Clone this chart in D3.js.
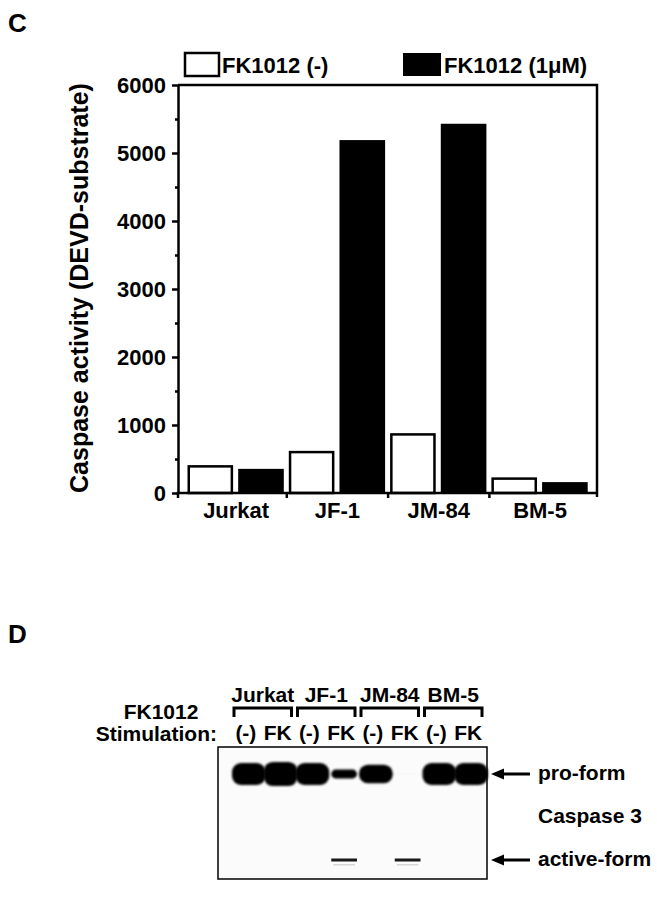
<!DOCTYPE html>
<meta charset="utf-8">
<style>
body {
  margin: 0;
  background: #fff;
  font-family: "Liberation Sans", Arial, Helvetica, sans-serif;
  font-weight: bold;
}
text {
  font-weight: bold;
  fill: #000;
}
.narrow {
  font-family: "Liberation Sans Narrow", "Liberation Sans", Arial, sans-serif;
}
.frame {
  fill: none;
  stroke: #000;
  stroke-width: 2.5;
}
.axis path, .axis line {
  stroke: #000;
  stroke-width: 2.5;
}
.bar-neg {
  fill: #fff;
  stroke: #000;
  stroke-width: 2.5;
}
.bar-fk {
  fill: #000;
}
</style>
<body>
<script src="https://cdn.jsdelivr.net/npm/d3@7"></script>
<script>

var cellLines = ["Jurkat", "JF-1", "JM-84", "BM-5"];
var caspaseNeg = [410, 620, 880, 230];
var caspaseFK = [355, 5190, 5430, 160];
var yTicks = [0, 1000, 2000, 3000, 4000, 5000, 6000];
var yMinor = [500, 1500, 2500, 3500, 4500, 5500];
var legendLabels = ["FK1012 (-)", "FK1012 (1\u03bcM)"];

var laneTreat = ["(-)", "FK", "(-)", "FK", "(-)", "FK", "(-)", "FK"];
var proForm = [1.0, 1.1, 1.0, 0.4, 0.85, 0.02, 1.0, 1.0];
var activeForm = [0, 0, 0, 0.9, 0, 0.9, 0, 0];
var blotLabels = ["pro-form", "Caspase 3", "active-form"];

var width = 657,
    height = 899;

var svg = d3.select("body").append("svg")
    .attr("width", width)
    .attr("height", height);

// ---- panel C : bar chart ----
var plot = {left: 178, right: 597, top: 85, bottom: 493};

var x = d3.scaleBand()
    .domain(cellLines)
    .range([185.5, 590.7]);

var x1 = d3.scaleBand()
    .domain(["neg", "fk"])
    .range([2, x.bandwidth() - 3])
    .paddingInner(0.1);

var y = d3.scaleLinear()
    .domain([0, 6000])
    .range([plot.bottom, plot.top]);

svg.append("text")
    .attr("x", 8)
    .attr("y", 32)
    .style("font-size", "26px")
    .text("C");

var rows = cellLines.map(function(c, i) {
  return {cat: c, neg: caspaseNeg[i], fk: caspaseFK[i]};
});

var groups = svg.selectAll(".grp")
    .data(rows)
  .enter().append("g")
    .attr("class", "grp")
    .attr("transform", function(d) { return "translate(" + x(d.cat) + ",0)"; });

groups.append("rect")
    .attr("class", "bar-fk")
    .attr("x", x1("fk"))
    .attr("width", x1.bandwidth())
    .attr("y", function(d) { return y(d.fk); })
    .attr("height", function(d) { return y(0) - y(d.fk); });

groups.append("rect")
    .attr("class", "bar-neg")
    .attr("x", x1("neg") + 1.25)
    .attr("width", x1.bandwidth() - 2.5)
    .attr("y", function(d) { return y(d.neg) + 1.25; })
    .attr("height", function(d) { return y(0) - y(d.neg) - 1.25; });

// frame: top + right border
svg.append("path")
    .attr("class", "frame")
    .attr("d", "M" + plot.left + "," + plot.top + "H" + plot.right + "V" + (plot.bottom + 4));

var yAxis = svg.append("g")
    .attr("class", "axis")
    .attr("transform", "translate(" + plot.left + ",0)")
    .call(d3.axisLeft(y).tickValues(yTicks).tickSize(6).tickSizeOuter(0).tickPadding(6).tickFormat(d3.format("d")));

yAxis.selectAll("text")
    .style("font-size", "22px")
    .style("font-family", "'Liberation Sans', Arial, sans-serif")
    .attr("dy", "0.36em");

svg.append("g")
    .attr("class", "axis")
    .attr("transform", "translate(" + plot.left + ",0)")
    .call(d3.axisLeft(y).tickValues(yMinor).tickSize(3).tickFormat(""))
  .select(".domain").remove();

var xAxis = svg.append("g")
    .attr("class", "axis")
    .attr("transform", "translate(0," + plot.bottom + ")");

xAxis.append("line")
    .attr("x1", plot.left - 1.25)
    .attr("x2", plot.right)
    .attr("stroke", "#000");

xAxis.selectAll(".xtick")
    .data([plot.left].concat(cellLines.slice(1).map(function(c) { return x(c); })))
  .enter().append("line")
    .attr("class", "xtick")
    .attr("x1", function(d) { return d; })
    .attr("x2", function(d) { return d; })
    .attr("y1", 0)
    .attr("y2", 5);

xAxis.selectAll(".xlab")
    .data(cellLines)
  .enter().append("text")
    .attr("class", "xlab")
    .attr("x", function(d) { return x(d) + x.bandwidth() / 2; })
    .attr("y", 25)
    .attr("text-anchor", "middle")
    .style("font-size", "22px")
    .text(function(d) { return d; });

svg.append("text")
    .attr("transform", "translate(88," + ((plot.top + plot.bottom) / 2 - 1) + ") rotate(-90)")
    .attr("text-anchor", "middle")
    .style("font-size", "25px")
    .text("Caspase activity (DEVD-substrate)");

// legend
var legend = svg.selectAll(".legend")
    .data(legendLabels)
  .enter().append("g")
    .attr("class", "legend")
    .attr("transform", function(d, i) { return "translate(" + [185, 403][i] + ",53)"; });

legend.append("rect")
    .attr("width", function(d, i) { return i ? 38 : 34; })
    .attr("height", 23)
    .attr("fill", function(d, i) { return i ? "#000" : "#fff"; })
    .attr("stroke", "#000")
    .attr("stroke-width", function(d, i) { return i ? 0 : 2.5; });

legend.append("text")
    .attr("x", function(d, i) { return i ? 41 : 37; })
    .attr("y", 20)
    .style("font-size", "22px")
    .text(function(d) { return d; });

// ---- panel D : western blot ----
svg.append("text")
    .attr("x", 8)
    .attr("y", 643)
    .style("font-size", "26px")
    .text("D");

var lane = d3.scaleBand()
    .domain(d3.range(laneTreat.length))
    .range([233, 487]);

var blot = {left: 218, right: 487, top: 747, bottom: 879};
var proY = 774,
    actY = 860;

var defs = svg.append("defs");
defs.append("filter")
    .attr("id", "soft")
    .attr("x", "-20%").attr("y", "-50%").attr("width", "140%").attr("height", "200%")
  .append("feGaussianBlur")
    .attr("stdDeviation", 1.2);
defs.append("filter")
    .attr("id", "soft2")
    .attr("x", "-20%").attr("y", "-100%").attr("width", "140%").attr("height", "300%")
  .append("feGaussianBlur")
    .attr("stdDeviation", 0.6);

svg.append("rect")
    .attr("x", blot.left)
    .attr("y", blot.top)
    .attr("width", blot.right - blot.left)
    .attr("height", blot.bottom - blot.top)
    .attr("fill", "#fbfbfb");

svg.selectAll(".pro")
    .data(proForm)
  .enter().append("rect")
    .attr("class", "pro")
    .attr("x", function(d, i) { return lane(i) + (d > 0.5 ? -1 : 3); })
    .attr("width", function(d) { return lane.bandwidth() + (d > 0.5 ? 2 : -6); })
    .attr("y", function(d) { return proY - 11 * d; })
    .attr("height", function(d) { return 22 * d; })
    .attr("rx", function(d) { return Math.min(11 * d, 9); })
    .attr("fill", "#050505")
    .attr("fill-opacity", function(d) { return Math.min(1, d * 3); })
    .attr("filter", "url(#soft)");

svg.selectAll(".act")
    .data(activeForm)
  .enter().append("rect")
    .attr("class", "act")
    .attr("x", function(d, i) { return lane(i) + 3; })
    .attr("y", actY - 1.5)
    .attr("width", lane.bandwidth() - 6)
    .attr("height", 3)
    .attr("fill", "#000")
    .attr("fill-opacity", function(d) { return d; })
    .attr("filter", "url(#soft2)");

svg.selectAll(".act2")
    .data(activeForm)
  .enter().append("rect")
    .attr("class", "act2")
    .attr("x", function(d, i) { return lane(i) + 5; })
    .attr("y", actY + 4)
    .attr("width", lane.bandwidth() - 10)
    .attr("height", 1.5)
    .attr("fill", "#777")
    .attr("fill-opacity", function(d) { return d * 0.3; });

svg.append("rect")
    .attr("x", blot.left)
    .attr("y", blot.top)
    .attr("width", blot.right - blot.left)
    .attr("height", blot.bottom - blot.top)
    .attr("fill", "none")
    .attr("stroke", "#000")
    .attr("stroke-width", 1.5);

// brackets and cell line names
var pairs = cellLines.map(function(c, i) {
  return {name: c, x0: lane(2 * i) + 1, x1: lane(2 * i + 1) + lane.bandwidth() - 5};
});

svg.selectAll(".bracket")
    .data(pairs)
  .enter().append("path")
    .attr("class", "bracket")
    .attr("d", function(d) { return "M" + d.x0 + ",717V708H" + d.x1 + "V717"; })
    .attr("fill", "none")
    .attr("stroke", "#000")
    .attr("stroke-width", 3);

svg.selectAll(".lanename")
    .data(pairs)
  .enter().append("text")
    .attr("class", "lanename narrow")
    .attr("x", function(d) { return (d.x0 + d.x1) / 2; })
    .attr("y", 702)
    .attr("text-anchor", "middle")
    .style("font-size", "21px")
    .text(function(d) { return d.name; });

svg.selectAll(".treat")
    .data(laneTreat)
  .enter().append("text")
    .attr("class", "treat narrow")
    .attr("x", function(d, i) { return lane(i) + lane.bandwidth() / 2 - 3; })
    .attr("y", 740)
    .attr("text-anchor", "middle")
    .style("font-size", "21px")
    .text(function(d) { return d; });

svg.append("text")
    .attr("class", "narrow")
    .attr("x", 161)
    .attr("y", 719)
    .attr("text-anchor", "middle")
    .style("font-size", "21px")
    .text("FK1012");

svg.append("text")
    .attr("class", "narrow")
    .attr("x", 217)
    .attr("y", 741)
    .attr("text-anchor", "end")
    .style("font-size", "21px")
    .text("Stimulation:");

// arrows and right-hand labels
var arrowRows = [proY, actY];

svg.selectAll(".arrow")
    .data(arrowRows)
  .enter().append("path")
    .attr("class", "arrow")
    .attr("d", function(d) {
      return "M491," + d + "L504," + (d - 5.5) + "V" + (d - 1.5) + "H530V" + (d + 1.5) + "H504V" + (d + 5.5) + "Z";
    })
    .attr("fill", "#000");

svg.selectAll(".blotlab")
    .data(blotLabels)
  .enter().append("text")
    .attr("class", "blotlab")
    .attr("x", 538)
    .attr("y", function(d, i) { return [proY + 6, 823, actY + 6][i]; })
    .style("font-size", "21px")
    .text(function(d) { return d; });

</script>
